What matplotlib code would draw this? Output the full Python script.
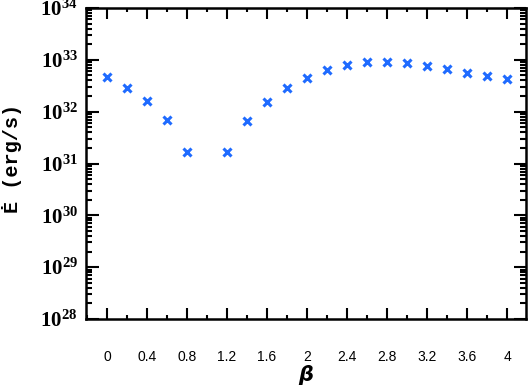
import matplotlib
matplotlib.use("Agg")
import matplotlib.pyplot as plt
import numpy as np
from matplotlib.ticker import LogLocator, FixedLocator, MultipleLocator, NullFormatter

beta = [0.0, 0.2, 0.4, 0.6, 0.8, 1.2, 1.4, 1.6, 1.8, 2.0, 2.2, 2.4, 2.6, 2.8,
        3.0, 3.2, 3.4, 3.6, 3.8, 4.0]
edot = [4.6e32, 2.86e32, 1.58e32, 6.8e31, 1.64e31, 1.64e31, 6.7e31, 1.55e32,
        2.86e32, 4.46e32, 6.28e32, 7.84e32, 8.96e32, 9.2e32, 8.69e32, 7.6e32,
        6.56e32, 5.65e32, 4.87e32, 4.21e32]
xticks = [0, 0.4, 0.8, 1.2, 1.6, 2, 2.4, 2.8, 3.2, 3.6, 4]
xticklabels = ["0", "0.4", "0.8", "1.2", "1.6", "2", "2.4", "2.8", "3.2", "3.6", "4"]
ydecades = [28, 29, 30, 31, 32, 33, 34]

plt.rcParams['mathtext.fontset'] = 'custom'
plt.rcParams['mathtext.rm'] = 'Liberation Serif'
plt.rcParams['mathtext.it'] = 'Liberation Serif:italic'
plt.rcParams['mathtext.bf'] = 'Liberation Serif:bold'

fig = plt.figure(figsize=(5.3, 3.88), dpi=100)
ax = fig.add_axes([0.1623, 0.1778, 0.8302, 0.8016])

ax.plot(beta, edot, linestyle='none', marker='x', color='#1f6bff',
        markersize=5.5, markeredgewidth=2.2)

ax.set_yscale('log')
ax.set_ylim(1e28, 1e34)
ax.set_xlim(-0.21, 4.19)

ax.yaxis.set_major_locator(FixedLocator([10.0**d for d in ydecades]))
ax.yaxis.set_minor_locator(LogLocator(base=10, subs=np.arange(2, 10), numticks=20))
ax.yaxis.set_minor_formatter(NullFormatter())
ax.set_yticklabels([r'$\mathbf{10^{%d}}$' % d for d in ydecades],
                   fontsize=15, family='Liberation Serif')

ax.set_xticks(xticks)
ax.set_xticklabels(xticklabels, fontsize=10, family='Liberation Sans')
ax.xaxis.set_minor_locator(MultipleLocator(0.2))

ax.tick_params(which='both', direction='in', top=True, right=True, width=1.5, colors='black')
ax.tick_params(axis='y', which='major', length=9, pad=6)
ax.tick_params(axis='y', which='minor', length=4.5)
ax.tick_params(axis='x', which='major', length=8, pad=22)
ax.tick_params(axis='x', which='minor', length=3)

for s in ax.spines.values():
    s.set_linewidth(1.8)

ax.set_ylabel('Ė (erg/s)', fontsize=14.5, fontweight='bold',
              family=['Liberation Mono', 'DejaVu Sans Mono'], labelpad=9)
ax.yaxis.set_label_coords(-0.145, 0.515)
ax.set_xlabel('β', fontsize=15, fontweight='bold',
              style='italic', family='DejaVu Sans', labelpad=1)

fig.savefig('out.png', dpi=100)
